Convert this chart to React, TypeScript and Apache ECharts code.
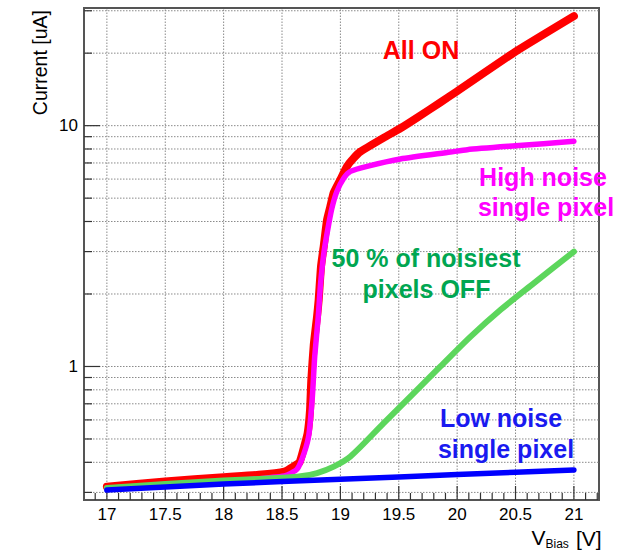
import React, { useEffect, useRef } from 'react';
import * as echarts from 'echarts';

const X_MIN = 16.804;
const X_MAX = 21.215;
const Y_MIN = 0.279;
const Y_MAX = 30.8;

const allOnV = [17.0, 17.5, 18.0, 18.3, 18.52, 18.6, 18.65, 18.69, 18.72, 18.74, 18.751, 18.772, 18.8, 18.814, 18.834, 18.857, 18.886, 18.914, 18.943, 19.0, 19.057, 19.11, 19.171, 19.369, 19.514, 19.658, 19.857, 20.0, 20.5, 21.0];
const allOnI = [0.317, 0.333, 0.347, 0.355, 0.366, 0.385, 0.4, 0.465, 0.53, 0.66, 0.88, 1.23, 1.61, 1.89, 2.6, 3.15, 4.07, 4.62, 5.27, 5.97, 6.78, 7.3, 7.8, 8.9, 9.75, 10.8, 12.5, 13.9, 20.3, 28.5];

const highV = [17.0, 17.5, 18.0, 18.52, 18.63, 18.69, 18.73, 18.76, 18.78, 18.81, 18.83, 18.86, 18.9, 18.93, 18.97, 19.03, 19.086, 19.229, 19.514, 19.943, 20.087, 20.5, 21.0];
const highI = [0.312, 0.322, 0.333, 0.351, 0.375, 0.438, 0.52, 0.75, 1.1, 1.6, 2.2, 3.0, 3.9, 4.6, 5.33, 6.06, 6.46, 6.78, 7.27, 7.77, 7.95, 8.25, 8.61];

const halfOffV = [17.0, 17.5, 18.0, 18.5, 18.66, 18.8, 18.943, 19.086, 19.371, 19.857, 20.115, 20.372, 20.658, 21.0];
const halfOffI = [0.313, 0.325, 0.336, 0.345, 0.35, 0.361, 0.384, 0.423, 0.582, 1.0, 1.33, 1.72, 2.22, 3.0];

const lowV = [17.0, 17.5, 18.0, 18.5, 19.0, 19.5, 20.0, 20.5, 21.0];
const lowI = [0.307, 0.316, 0.325, 0.333, 0.34, 0.348, 0.356, 0.364, 0.372];

const Y_GRID = [0.3, 0.4, 0.5, 0.6, 0.7, 0.8, 0.9, 1, 2, 3, 4, 5, 6, 7, 8, 9, 10, 20, 30];
const Y_LABELS = [1, 10];
const X_GRID = [17, 17.5, 18, 18.5, 19, 19.5, 20, 20.5, 21];

const FONT = '"Liberation Sans", Arial, Helvetica, sans-serif';

const zip = (xs: number[], ys: number[]) => xs.map((x, i) => [x, ys[i]]);

export default function App() {
  const ref = useRef<HTMLDivElement>(null);
  useEffect(() => {
    if (!ref.current) return;
    const chart = echarts.init(ref.current, undefined, { renderer: 'svg' });
    const xMinor: number[] = [];
    for (let k = 169; k <= 212; k++) xMinor.push(k / 10);

    const renderFrameItems = (params: any, api: any) => {
      const children: any[] = [];
      const gridStyle = { stroke: '#8a8a8a', lineWidth: 1, lineDash: [1.5, 1.5] };
      X_GRID.forEach((x) => {
        const a = api.coord([x, Y_MIN]);
        const b = api.coord([x, Y_MAX]);
        children.push({ type: 'line', shape: { x1: a[0], y1: a[1], x2: b[0], y2: b[1] }, style: gridStyle, silent: true });
      });
      Y_GRID.forEach((y) => {
        const a = api.coord([X_MIN, y]);
        const b = api.coord([X_MAX, y]);
        children.push({ type: 'line', shape: { x1: a[0], y1: a[1], x2: b[0], y2: b[1] }, style: gridStyle, silent: true });
      });
      const tickStyle = { stroke: '#333', lineWidth: 1.2 };
      xMinor.forEach((x) => {
        const major = Math.abs(x * 2 - Math.round(x * 2)) < 1e-6;
        const a = api.coord([x, Y_MIN]);
        const len = major ? 14 : 7;
        children.push({ type: 'line', shape: { x1: a[0], y1: a[1], x2: a[0], y2: a[1] - len }, style: tickStyle, silent: true });
      });
      Y_GRID.forEach((y) => {
        const major = Y_LABELS.indexOf(y) >= 0;
        const a = api.coord([X_MIN, y]);
        const len = major ? 16 : 8;
        children.push({ type: 'line', shape: { x1: a[0], y1: a[1], x2: a[0] + len, y2: a[1] }, style: tickStyle, silent: true });
      });
      Y_LABELS.forEach((y) => {
        const a = api.coord([X_MIN, y]);
        children.push({
          type: 'text',
          x: a[0] - 6,
          y: a[1],
          style: { text: String(y), align: 'right', verticalAlign: 'middle', fontSize: 17, fontFamily: FONT, fill: '#000' },
          silent: true,
        });
      });
      return { type: 'group', children };
    };

    const lineSeries = (name: string, data: number[][], color: string, width: number, z: number, smooth: number) => ({
      name,
      type: 'line',
      data,
      z,
      symbol: 'none',
      showSymbol: false,
      itemStyle: { color },
      lineStyle: { color, width, cap: 'round', join: 'round' },
      smooth,
      silent: true,
    });

    const ann = (text: string, x: number, y: number, color: string) => ({
      type: 'text',
      x,
      y,
      z: 100,
      style: { text, fill: color, fontSize: 25, fontWeight: 'bold', fontFamily: FONT, align: 'center', verticalAlign: 'middle' },
    });

    chart.setOption({
      animation: false,
      backgroundColor: '#ffffff',
      grid: { left: 84, top: 8, right: 37, bottom: 52, show: true, borderColor: '#555', borderWidth: 2, backgroundColor: 'transparent' },
      xAxis: {
        type: 'value',
        min: X_MIN,
        max: X_MAX,
        splitNumber: 9,
        axisLine: { show: false },
        axisTick: { show: false },
        splitLine: { show: false },
        axisLabel: {
          show: true,
          showMinLabel: false,
          showMaxLabel: false,
          fontSize: 17,
          fontFamily: FONT,
          color: '#000',
          margin: 6,
          formatter: (v: number) => String(Math.round(v * 10) / 10),
        },
      },
      yAxis: {
        type: 'log',
        logBase: 10,
        min: Y_MIN,
        max: Y_MAX,
        axisLine: { show: false },
        axisTick: { show: false },
        splitLine: { show: false },
        axisLabel: { show: false },
      },
      graphic: [
        {
          type: 'text',
          x: 40,
          y: 10,
          rotation: Math.PI / 2,
          style: { text: 'Current [uA]', fontSize: 19.5, fontFamily: FONT, fill: '#000', align: 'right', verticalAlign: 'middle' },
        },
        { type: 'text', x: 531.5, y: 537, style: { text: 'V', fontSize: 21, fontFamily: FONT, fill: '#000', align: 'left', verticalAlign: 'middle' } },
        { type: 'text', x: 545.5, y: 544, style: { text: 'Bias', fontSize: 12, fontFamily: FONT, fill: '#000', align: 'left', verticalAlign: 'middle' } },
        { type: 'text', x: 576, y: 538, style: { text: '[V]', fontSize: 21, fontFamily: FONT, fill: '#000', align: 'left', verticalAlign: 'middle' } },
        ann('All ON', 421, 50, '#ff0000'),
        ann('High noise', 543, 177, '#ff00ff'),
        ann('single pixel', 546, 207, '#ff00ff'),
        ann('50 % of noisiest', 426, 258, '#00a651'),
        ann('pixels OFF', 426.5, 289, '#00a651'),
        ann('Low noise', 501, 418, '#1a1af0'),
        ann('single pixel', 506, 449, '#1a1af0'),
      ],
      series: [
        {
          type: 'custom',
          renderItem: renderFrameItems,
          data: [[17, 1]],
          z: 1,
          silent: true,
          clip: false,
        },
        lineSeries('All ON', zip(allOnV, allOnI), '#ff0000', 8, 3, 0.15),
        lineSeries('High noise single pixel', zip(highV, highI), '#ff00ff', 5.5, 4, 0.2),
        lineSeries('50 % of noisiest pixels OFF', zip(halfOffV, halfOffI), '#5cd65c', 6, 5, 0.3),
        lineSeries('Low noise single pixel', zip(lowV, lowI), '#0000ff', 5.5, 6, 0),
      ],
    });
    return () => chart.dispose();
  }, []);
  return <div ref={ref} style={{ position: 'fixed', left: 0, top: 0, width: 636, height: 552, background: '#fff' }} />;
}
